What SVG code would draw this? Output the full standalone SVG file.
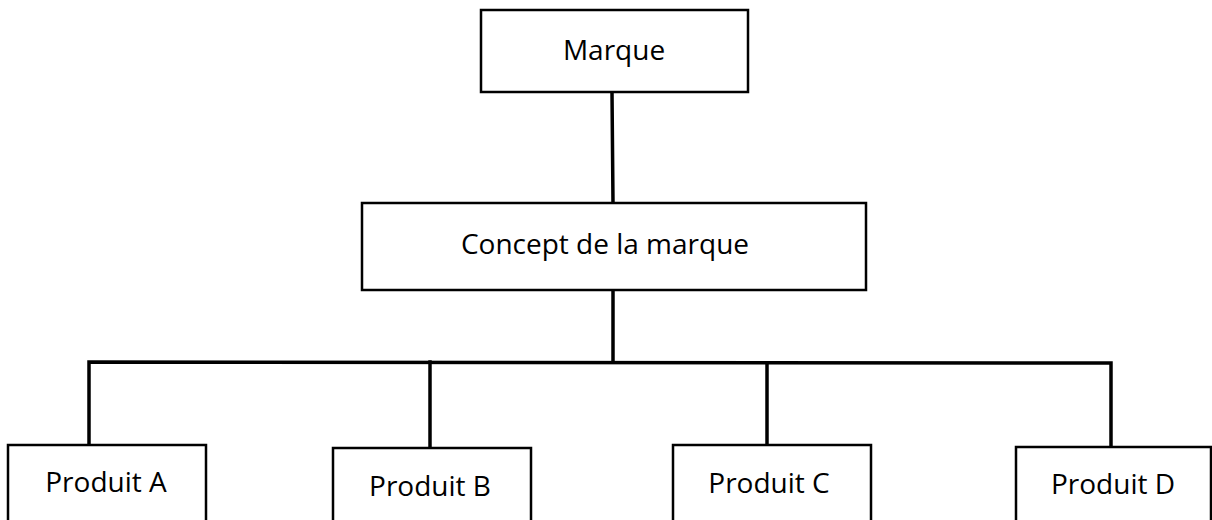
<svg xmlns="http://www.w3.org/2000/svg" width="1212" height="520" viewBox="0 0 1212 520">
<style>
.box{fill:#fff;stroke:#000;stroke-width:2.5}
.lbl{font-family:"Open Sans","Liberation Sans",sans-serif;font-size:28px;fill:#000;text-anchor:middle}
.con{stroke:#000;stroke-width:3.5;fill:none;stroke-linecap:square}
</style>
<rect width="1212" height="520" fill="#fff"/>
<g id="connectors">
<line class="con" x1="612" y1="92" x2="613" y2="203"/>
<line class="con" x1="613" y1="290" x2="613" y2="362"/>
<polyline class="con" points="89,445 89,362 1111,363 1111,447"/>
<line class="con" x1="430" y1="362" x2="430" y2="448"/>
<line class="con" x1="767" y1="363" x2="767" y2="445"/>
</g>
<g id="marque">
<rect class="box" x="481" y="10" width="267" height="82"/>
<text class="lbl" x="614" y="60">Marque</text>
</g>
<g id="concept">
<rect class="box" x="362" y="203" width="504" height="87"/>
<text class="lbl" x="605" y="254">Concept de la marque</text>
</g>
<g id="produitA">
<rect class="box" x="8" y="445" width="198" height="90"/>
<text class="lbl" x="106" y="492">Produit A</text>
</g>
<g id="produitB">
<rect class="box" x="333" y="448" width="198" height="90"/>
<text class="lbl" x="430" y="496">Produit B</text>
</g>
<g id="produitC">
<rect class="box" x="673" y="445" width="198" height="90"/>
<text class="lbl" x="769" y="493">Produit C</text>
</g>
<g id="produitD">
<rect class="box" x="1016" y="447" width="195" height="90"/>
<text class="lbl" x="1113" y="494">Produit D</text>
</g>
</svg>
